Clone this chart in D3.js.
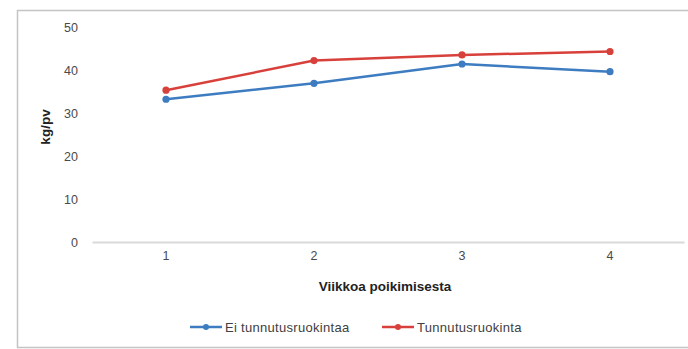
<!DOCTYPE html>
<html><head><meta charset="utf-8">
<script src="https://cdn.jsdelivr.net/npm/d3@7"></script>
<style>body{margin:0;background:#fff;} svg{display:block;font-family:"Liberation Sans",Arial,sans-serif;}</style>
</head><body>
<svg id="c" width="688" height="349"></svg>
<script>
const categories = ["1", "2", "3", "4"];
const seriesNames = ["Ei tunnutusruokintaa", "Tunnutusruokinta"];
const eiValues = [33.2, 36.9, 41.4, 39.6];
const tunValues = [35.3, 42.2, 43.5, 44.3];
const yTicks = [0, 10, 20, 30, 40, 50];
const colors = ["#3d7cc0", "#d8403b"];

const svg = d3.select("#c");
svg.append("rect").attr("x",17.5).attr("y",10.5).attr("width",680).attr("height",337)
  .attr("fill","#fff").attr("stroke","#c4c4c4").attr("stroke-width",1.5);

const x = d3.scaleBand().domain(categories).range([92, 684]);
const y = d3.scaleLinear().domain([0, 50]).range([242, 27]);

// y axis labels
const yAxis = d3.axisLeft(y).tickValues(yTicks).tickSize(0).tickPadding(0);
const gy = svg.append("g").attr("transform","translate(78,0)").call(yAxis);
gy.select(".domain").remove();
gy.selectAll("text").attr("font-size",12.5).attr("fill","#4a4a4a").attr("font-family","Liberation Sans, Arial, sans-serif");

// x axis
const xAxis = d3.axisBottom(x).tickSize(0).tickPadding(9);
const gx = svg.append("g").attr("transform","translate(0,242)").call(xAxis);
gx.select(".domain").attr("stroke","#d9d9d9").attr("stroke-width",2);
gx.selectAll("text").attr("font-size",12.5).attr("fill","#4a4a4a").attr("font-family","Liberation Sans, Arial, sans-serif");

// titles
svg.append("text").attr("x",385).attr("y",291).attr("text-anchor","middle")
  .attr("font-size",13.5).attr("font-weight","bold").attr("fill","#222").text("Viikkoa poikimisesta");
svg.append("text").attr("transform","translate(50,127) rotate(-90)").attr("text-anchor","middle")
  .attr("font-size",13.5).attr("font-weight","bold").attr("fill","#222").text("kg/pv");

// series
const series = [eiValues, tunValues];
const line = d3.line().x((d,i)=>x(categories[i])+x.bandwidth()/2).y(d=>y(d));
series.forEach((vals, s) => {
  svg.append("path").datum(vals).attr("d", line).attr("fill","none")
    .attr("stroke", colors[s]).attr("stroke-width",2.5).attr("stroke-linejoin","round");
  svg.selectAll(null).data(vals).enter().append("circle")
    .attr("cx",(d,i)=>x(categories[i])+x.bandwidth()/2).attr("cy",d=>y(d))
    .attr("r",3.6).attr("fill",colors[s]);
});

// legend
const legendX = [190, 382];
seriesNames.forEach((name, s) => {
  const g = svg.append("g").attr("transform",`translate(${legendX[s]},327)`);
  g.append("line").attr("x1",0).attr("x2",32).attr("y1",0).attr("y2",0)
    .attr("stroke",colors[s]).attr("stroke-width",2.5);
  g.append("circle").attr("cx",16).attr("cy",0).attr("r",3).attr("fill",colors[s]);
  g.append("text").attr("x",35).attr("y",4.5).attr("font-size",13).attr("letter-spacing",0.3)
    .attr("fill","#404040").text(name);
});
</script>
</body></html>
